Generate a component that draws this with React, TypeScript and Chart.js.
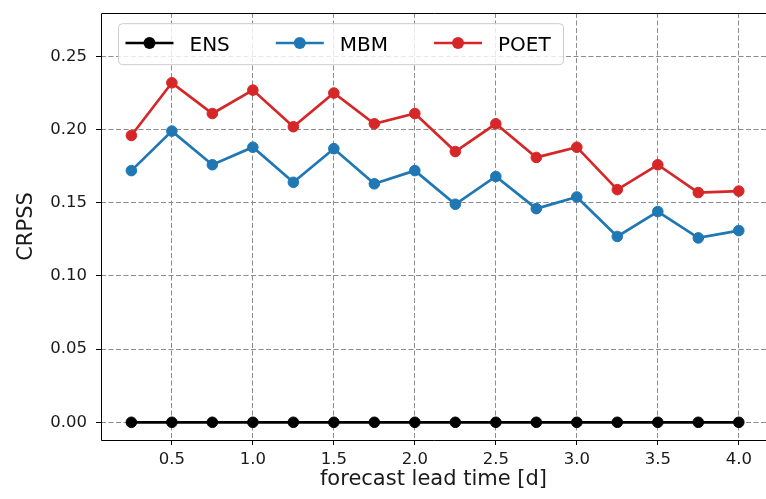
import React, { useEffect, useRef } from "react";
import { Chart, registerables } from "chart.js";

Chart.register(...registerables);

const leadTimes = [0.25, 0.5, 0.75, 1.0, 1.25, 1.5, 1.75, 2.0, 2.25, 2.5, 2.75, 3.0, 3.25, 3.5, 3.75, 4.0];
const ens = [0, 0, 0, 0, 0, 0, 0, 0, 0, 0, 0, 0, 0, 0, 0, 0];
const mbm = [0.172, 0.199, 0.176, 0.188, 0.164, 0.187, 0.163, 0.172, 0.149, 0.168, 0.146, 0.154, 0.127, 0.144, 0.126, 0.131];
const poet = [0.196, 0.232, 0.211, 0.227, 0.202, 0.225, 0.204, 0.211, 0.185, 0.204, 0.181, 0.188, 0.159, 0.176, 0.157, 0.158];
const xTicks = [0.5, 1.0, 1.5, 2.0, 2.5, 3.0, 3.5, 4.0];
const yTicks = [0.0, 0.05, 0.1, 0.15, 0.2, 0.25];
const seriesNames = ["ENS", "MBM", "POET"];
const seriesColors = ["#000000", "#1f77b4", "#d62728"];

const FONT = "'DejaVu Sans', sans-serif";

const framePlugin = {
  id: "frameLegend",
  afterDraw(chart: any) {
    const { ctx, chartArea: a } = chart;
    ctx.save();
    ctx.strokeStyle = "#000";
    ctx.lineWidth = 1;
    ctx.setLineDash([]);
    const l = Math.round(a.left) + 0.5;
    const t = Math.round(a.top) + 0.5;
    const b = Math.round(a.bottom) + 0.5;
    const r = Math.round(a.right) + 2.5;
    ctx.beginPath();
    ctx.moveTo(r, t);
    ctx.lineTo(l, t);
    ctx.lineTo(l, b);
    ctx.lineTo(r, b);
    ctx.stroke();

    // legend
    const lx = a.left + 17.5;
    const ly = a.top + 10.7;
    const w = 445;
    const h = 41;
    const rad = 4;
    ctx.beginPath();
    ctx.moveTo(lx + rad, ly);
    ctx.lineTo(lx + w - rad, ly);
    ctx.quadraticCurveTo(lx + w, ly, lx + w, ly + rad);
    ctx.lineTo(lx + w, ly + h - rad);
    ctx.quadraticCurveTo(lx + w, ly + h, lx + w - rad, ly + h);
    ctx.lineTo(lx + rad, ly + h);
    ctx.quadraticCurveTo(lx, ly + h, lx, ly + h - rad);
    ctx.lineTo(lx, ly + rad);
    ctx.quadraticCurveTo(lx, ly, lx + rad, ly);
    ctx.closePath();
    ctx.fillStyle = "rgba(255,255,255,0.8)";
    ctx.fill();
    ctx.strokeStyle = "#cccccc";
    ctx.lineWidth = 1;
    ctx.stroke();

    ctx.font = `20px ${FONT}`;
    ctx.textBaseline = "alphabetic";
    ctx.textAlign = "left";
    let x = lx + 7;
    const lineY = ly + 19.3;
    for (let i = 0; i < seriesNames.length; i++) {
      const c = seriesColors[i];
      ctx.strokeStyle = c;
      ctx.lineWidth = 2.7;
      ctx.beginPath();
      ctx.moveTo(x, lineY);
      ctx.lineTo(x + 48, lineY);
      ctx.stroke();
      ctx.fillStyle = c;
      ctx.beginPath();
      ctx.arc(x + 24, lineY, 6, 0, Math.PI * 2);
      ctx.fill();
      ctx.fillStyle = "#000";
      ctx.fillText(seriesNames[i], x + 64, ly + 27.7);
      x += 64 + ctx.measureText(seriesNames[i]).width + 46;
    }
    ctx.restore();
  },
};

export default function App() {
  const ref = useRef<HTMLCanvasElement | null>(null);

  useEffect(() => {
    if (!ref.current) return;
    const allSeries = [ens, mbm, poet];
    const datasets = allSeries.map((vals, i) => ({
      label: seriesNames[i],
      data: leadTimes.map((x, j) => ({ x, y: vals[j] })),
      borderColor: seriesColors[i],
      backgroundColor: seriesColors[i],
      pointBackgroundColor: seriesColors[i],
      pointBorderColor: seriesColors[i],
      pointRadius: 5.3,
      pointBorderWidth: 1,
      borderWidth: 2.7,
      tension: 0,
      fill: false,
      order: 3 - i,
      clip: false as any,
    }));

    const chart = new Chart(ref.current, {
      type: "line",
      data: { datasets },
      options: {
        animation: false,
        responsive: false,
        maintainAspectRatio: false,
        layout: { autoPadding: false, padding: { top: 13, right: 0, left: 0, bottom: 0 } } as any,
        plugins: { legend: { display: false }, title: { display: false }, tooltip: { enabled: false } },
        scales: {
          x: {
            type: "linear",
            min: 0.0625,
            max: 4.168,
            afterBuildTicks: (s: any) => {
              s.ticks = xTicks.map((v) => ({ value: v }));
            },
            afterFit: (s: any) => {
              s.height = 59;
              s.paddingLeft = 0;
              s.paddingRight = 0;
            },
            ticks: {
              callback: (v: any) => Number(v).toFixed(1),
              font: { family: FONT, size: 16.5 },
              color: "#1a1a1a",
              padding: 5,
              maxRotation: 0,
              autoSkip: false,
            },
            grid: {
              color: "#8c8c8c",
              lineWidth: 1,
              tickLength: 5,
              tickColor: "#000",
              tickWidth: 1,
              tickBorderDash: [],
            } as any,
            border: { display: false, dash: [5, 2.5] } as any,
            title: {
              display: true,
              text: "forecast lead time [d]",
              font: { family: FONT, size: 21 },
              color: "#1a1a1a",
              padding: { top: 0, bottom: 7 },
            },
          },
          y: {
            type: "linear",
            min: -0.0121,
            max: 0.2797,
            afterBuildTicks: (s: any) => {
              s.ticks = yTicks.map((v) => ({ value: v }));
            },
            afterFit: (s: any) => {
              s.width = 101;
              s.paddingTop = 0;
              s.paddingBottom = 0;
            },
            ticks: {
              callback: (v: any) => Number(v).toFixed(2),
              font: { family: FONT, size: 16.5 },
              color: "#1a1a1a",
              padding: 9,
            },
            grid: {
              color: "#8c8c8c",
              lineWidth: 1,
              tickLength: 5,
              tickColor: "#000",
              tickWidth: 1,
              tickBorderDash: [],
            } as any,
            border: { display: false, dash: [5, 2.5] } as any,
            title: {
              display: true,
              text: "CRPSS",
              font: { family: FONT, size: 21 },
              color: "#1a1a1a",
              padding: { top: 14, bottom: 0 },
            },
          },
        },
      },
      plugins: [framePlugin],
    });
    return () => chart.destroy();
  }, []);

  return (
    <div style={{ position: "absolute", left: 0, top: 0, width: 766, height: 499, overflow: "hidden", background: "#fff" }}>
      <canvas ref={ref} width={766} height={499} style={{ width: 766, height: 499, display: "block" }} />
    </div>
  );
}
